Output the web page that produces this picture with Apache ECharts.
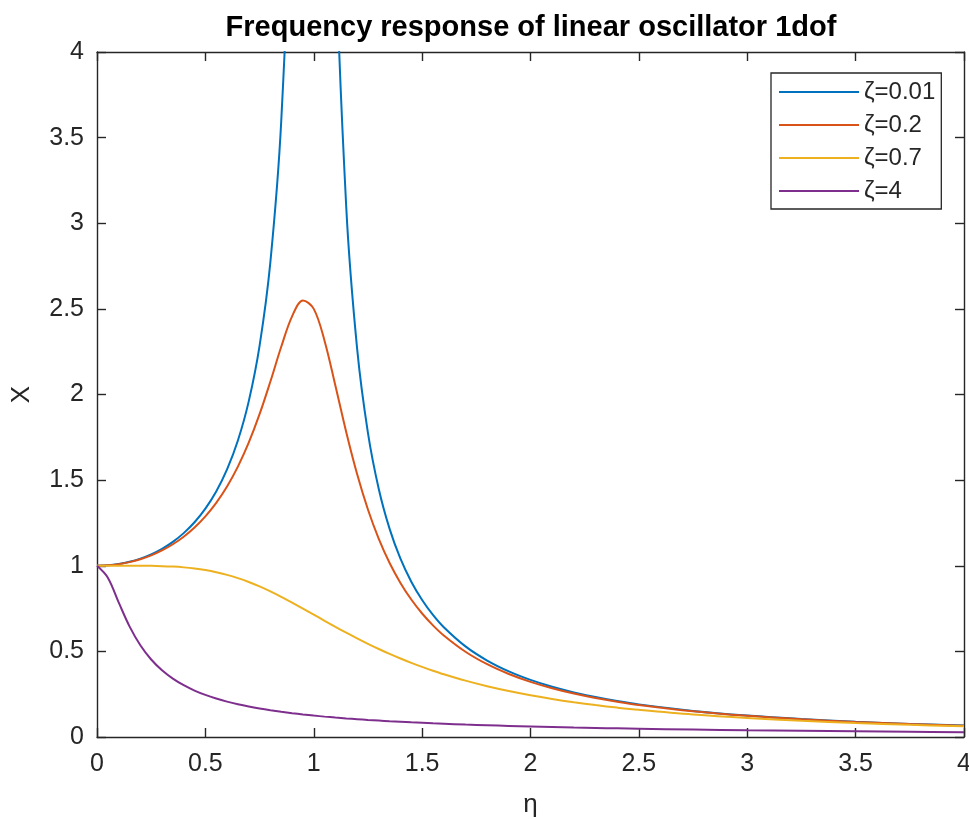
<!DOCTYPE html>
<html>
<head>
<meta charset="utf-8">
<script src="https://cdn.jsdelivr.net/npm/echarts@6/dist/echarts.min.js"></script>
<style>
html,body{margin:0;padding:0;background:#fff;}
#chart{width:969px;height:819px;}
</style>
</head>
<body>
<div id="chart"></div>
<script>
// η sample positions
const eta = [0,0.05,0.1,0.15,0.2,0.25,0.3,0.35,0.4,0.45,0.5,0.55,0.6,0.65,0.7,0.75,0.8,0.85,0.9,0.95,1.0,1.05,1.1,1.15,1.2,1.25,1.3,1.35,1.4,1.45,1.5,1.55,1.6,1.7,1.8,1.9,2.0,2.1,2.2,2.3,2.4,2.5,2.75,3.0,3.25,3.5,3.75,4.0];

// X values (amplitude) for each damping ratio
const z001 = [1,1.0025,1.0101,1.0230,1.0417,1.0667,1.0989,1.1396,1.1905,1.2539,1.3332,1.4335,1.5622,1.7311,1.9600,2.2844,2.7750,3.5967,5.2397,10.067,50,9.558,4.7360,3.0929,2.2693,1.7760,1.4482,1.2151,1.0412,0.9067,0.7998,0.7128,0.6409,0.5290,0.4464,0.3831,0.3333,0.2932,0.2604,0.2331,0.2101,0.1905,0.1524,0.1250,0.1046,0.0889,0.0766,0.0667];
const z02 = [1,1.0023,1.0093,1.0211,1.0381,1.0606,1.0895,1.1254,1.1694,1.2232,1.2883,1.3673,1.4630,1.5789,1.7188,1.8851,2.0761,2.2786,2.4566,2.5490,2.5000,2.3130,2.0511,1.7800,1.5357,1.3287,1.1574,1.0163,0.8998,0.8027,0.7212,0.6521,0.5931,0.4979,0.4250,0.3679,0.3221,0.2847,0.2538,0.2279,0.2059,0.1871,0.1503,0.1236,0.1036,0.0882,0.0761,0.0663];
const z07 = [1,1.0001,1.0002,1.0002,1.0000,0.9993,0.9978,0.9950,0.9905,0.9839,0.9747,0.9625,0.9469,0.9278,0.9052,0.8791,0.8500,0.8184,0.7848,0.7499,0.7143,0.6786,0.6434,0.6090,0.5758,0.5440,0.5138,0.4851,0.4582,0.4329,0.4092,0.3870,0.3663,0.3290,0.2966,0.2683,0.2437,0.2221,0.2031,0.1864,0.1716,0.1585,0.1314,0.1107,0.0944,0.0815,0.0710,0.0625];
const z4 = [1,0.9305,0.7857,0.6461,0.5359,0.4527,0.3896,0.3408,0.3023,0.2712,0.2457,0.2245,0.2065,0.1911,0.1778,0.1662,0.1560,0.1469,0.1388,0.1316,0.1250,0.1190,0.1136,0.1086,0.1041,0.0998,0.0959,0.0923,0.0890,0.0858,0.0829,0.0801,0.0776,0.0728,0.0686,0.0648,0.0614,0.0583,0.0555,0.0529,0.0506,0.0484,0.0436,0.0395,0.0361,0.0331,0.0306,0.0283];

const seriesNames = ['ζ=0.01','ζ=0.2','ζ=0.7','ζ=4'];
const seriesValues = [z001, z02, z07, z4];
const colors = ['#0072BD','#D95319','#EDB120','#7E2F8E'];

const titleText = 'Frequency response of linear oscillator 1dof';
const xName = 'η';
const yName = 'X';

const FONT = '"Liberation Sans", Arial, Helvetica, sans-serif';
const AX = '#262626';

const chart = echarts.init(document.getElementById('chart'), null, {renderer:'canvas'});

const axisCommon = {
  type:'value', min:0, max:4, interval:0.5,
  splitLine:{show:false},
  axisLine:{show:true, onZero:false, lineStyle:{color:AX, width:1.4}},
  axisTick:{show:true, inside:true, length:9, lineStyle:{color:AX, width:1.4}},
};

const option = {
  backgroundColor:'#ffffff',
  animation:false,
  color: colors,
  grid:{left:97, right:5, top:52, bottom:82, containLabel:false, outerBoundsMode:'none'},
  graphic:[{
    type:'text', x:531, y:28,
    style:{text:titleText, textAlign:'center', textVerticalAlign:'middle',
      font:'bold 29px ' + FONT, fill:'#000'}
  }],
  legend:{
    data: seriesNames,
    orient:'vertical', left:771, top:73,
    padding:[7,6,6,8],
    itemGap:9, itemWidth:80, itemHeight:2, icon:'rect',
    backgroundColor:'#fff', borderColor:AX, borderWidth:1.3,
    textStyle:{fontFamily:FONT, fontSize:24, color:AX, lineHeight:24}
  },
  xAxis:[
    Object.assign({}, axisCommon, {
      position:'bottom', name:xName, nameLocation:'middle', nameGap:55,
      nameTextStyle:{fontFamily:FONT, fontSize:26, color:AX},
      axisLabel:{fontFamily:FONT, fontSize:25, color:AX, margin:15}
    }),
    Object.assign({}, axisCommon, {position:'top', axisLabel:{show:false}})
  ],
  yAxis:[
    Object.assign({}, axisCommon, {
      position:'left', name:yName, nameLocation:'middle', nameGap:62,
      nameTextStyle:{fontFamily:FONT, fontSize:26, color:AX},
      axisLabel:{fontFamily:FONT, fontSize:25, color:AX, margin:13}
    }),
    Object.assign({}, axisCommon, {position:'right', axisLabel:{show:false}})
  ],
  series: seriesNames.map((n,k)=>({
    name:n, type:'line', xAxisIndex:0, yAxisIndex:0,
    data: eta.map((x,i)=>[x, seriesValues[k][i]]),
    showSymbol:false, symbol:'none', smooth:0.35,
    clip:true,
    lineStyle:{width:2, color:colors[k]},
    itemStyle:{color:colors[k]},
    z: 2+k
  }))
};
chart.setOption(option);
</script>
</body>
</html>
